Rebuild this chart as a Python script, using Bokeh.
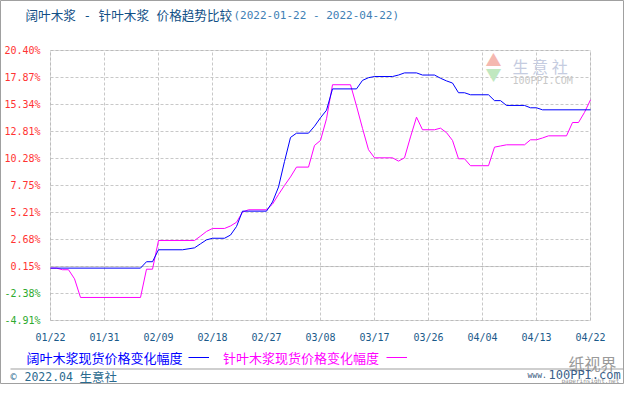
from datetime import datetime
import pandas as pd
from bokeh.plotting import figure
from bokeh.models import (FixedTicker, DatetimeTickFormatter, CustomJSTickFormatter, Label,
                          Legend, LegendItem, BoxAnnotation, Range1d, ColumnDataSource,
                          LinearAxis)
from bokeh.embed import file_html
from bokeh.resources import INLINE

# ---------------- data ----------------
title_main = "阔叶木浆 - 针叶木浆 价格趋势比较"
title_dates = "(2022-01-22 - 2022-04-22)"
series_names = ["阔叶木浆现货价格变化幅度", "针叶木浆现货价格变化幅度"]
footer_year = "2022.04"
footer_brand = "生意社"

hardwood_dates = ["2022-01-22", "2022-02-06", "2022-02-07", "2022-02-08", "2022-02-09", "2022-02-13",
                  "2022-02-15", "2022-02-16", "2022-02-17", "2022-02-18", "2022-02-20", "2022-02-21",
                  "2022-02-22", "2022-02-23", "2022-02-27", "2022-02-28", "2022-03-01", "2022-03-02",
                  "2022-03-03", "2022-03-04", "2022-03-06", "2022-03-07", "2022-03-08", "2022-03-09",
                  "2022-03-10", "2022-03-14", "2022-03-15", "2022-03-16", "2022-03-17", "2022-03-20",
                  "2022-03-21", "2022-03-22", "2022-03-24", "2022-03-25", "2022-03-27", "2022-03-28",
                  "2022-03-29", "2022-03-30", "2022-03-31", "2022-04-01", "2022-04-02", "2022-04-05",
                  "2022-04-06", "2022-04-07", "2022-04-08", "2022-04-11", "2022-04-12", "2022-04-13",
                  "2022-04-14", "2022-04-22"]
hardwood_values = [0.0, 0.0, 0.6, 0.6, 1.72, 1.72,
                   1.9, 2.28, 2.65, 2.8, 2.8, 3.1,
                   3.9, 5.34, 5.34, 6.2, 7.6, 10.0,
                   12.25, 12.65, 12.65, 13.3, 14.1, 14.8,
                   16.8, 16.8, 17.6, 17.85, 17.96, 17.96,
                   18.1, 18.3, 18.3, 18.1, 18.1, 17.8,
                   17.55, 17.35, 16.44, 16.44, 16.25, 16.25,
                   15.7, 15.7, 15.25, 15.25, 15.03, 15.03,
                   14.84, 14.84]

softwood_dates = ["2022-01-22", "2022-01-23", "2022-01-24", "2022-01-25", "2022-01-26", "2022-01-27",
                  "2022-02-06", "2022-02-07", "2022-02-08", "2022-02-09", "2022-02-15", "2022-02-16",
                  "2022-02-17", "2022-02-18", "2022-02-20", "2022-02-21", "2022-02-22", "2022-02-23",
                  "2022-02-24", "2022-02-27", "2022-02-28", "2022-03-01", "2022-03-02", "2022-03-03",
                  "2022-03-04", "2022-03-06", "2022-03-07", "2022-03-08", "2022-03-09", "2022-03-10",
                  "2022-03-13", "2022-03-14", "2022-03-15", "2022-03-16", "2022-03-17", "2022-03-20",
                  "2022-03-21", "2022-03-22", "2022-03-23", "2022-03-24", "2022-03-25", "2022-03-27",
                  "2022-03-28", "2022-03-29", "2022-03-30", "2022-03-31", "2022-04-01", "2022-04-02",
                  "2022-04-05", "2022-04-06", "2022-04-07", "2022-04-08", "2022-04-11", "2022-04-12",
                  "2022-04-13", "2022-04-14", "2022-04-15", "2022-04-18", "2022-04-19", "2022-04-20",
                  "2022-04-21", "2022-04-22"]
softwood_values = [0.0, 0.0, -0.15, -0.15, -1.0, -2.75,
                   -2.75, -0.1, -0.1, 2.59, 2.59, 3.0,
                   3.44, 3.72, 3.72, 3.95, 4.3, 5.25,
                   5.47, 5.47, 6.0, 6.9, 7.75, 8.55,
                   9.47, 9.47, 11.5, 11.97, 14.0, 17.19,
                   17.19, 15.2, 13.1, 11.1, 10.34, 10.34,
                   10.03, 10.34, 12.3, 14.15, 12.97, 12.97,
                   13.12, 12.7, 11.97, 10.25, 10.25, 9.6,
                   9.6, 11.34, 11.45, 11.56, 11.56, 12.03,
                   12.03, 12.2, 12.4, 12.4, 13.65, 13.65,
                   14.6, 15.78]

y_ticks = [-4.91, -2.38, 0.15, 2.68, 5.21, 7.75, 10.28, 12.81, 15.34, 17.87, 20.40]
x_tick_dates = ["2022-01-22", "2022-01-31", "2022-02-09", "2022-02-18", "2022-02-27", "2022-03-08",
                "2022-03-17", "2022-03-26", "2022-04-04", "2022-04-13", "2022-04-22"]

# ---------------- styling / layout ----------------
BLUE = "#0000ff"
MAGENTA = "#ff00ff"
MONO = "DejaVu Sans Mono"
CJK = "Noto Sans CJK SC"
STACK = "'DejaVu Sans Mono', 'Noto Sans CJK SC'"
W, H = 624, 384
PL, PR, PT, PB = 50, 590, 50, 320     # plot-area box in canvas pixels


def ms(d):
    return pd.Timestamp(d).value / 1e6


# the whole canvas is the frame; the plot-area box maps the date/percent ranges onto PL..PR / PT..PB
xa, xb = ms(x_tick_dates[0]), ms(x_tick_dates[-1])
ya, yb = y_ticks[0], y_ticks[-1]
kx = (xb - xa) / (PR - PL)
ky = (yb - ya) / (PB - PT)
x_range = Range1d(xa - PL * kx, xb + (W - PR) * kx)
y_range = Range1d(ya - (H - PB) * ky, yb + PT * ky)

p = figure(width=W, height=H, x_axis_type="datetime", output_backend="svg",
           toolbar_location=None, x_range=x_range, y_range=y_range, min_border=0)
p.background_fill_color = "white"
p.border_fill_color = "white"
p.outline_line_color = "#a0a0a0"      # outer border of the picture
p.outline_line_width = 1

# x axis
p.xaxis.ticker = FixedTicker(ticks=[ms(d) for d in x_tick_dates])
p.xaxis.formatter = DatetimeTickFormatter(days="%m/%d", months="%m/%d", hours="%m/%d",
                                          years="%m/%d")
p.xaxis.fixed_location = ya
p.xaxis.major_label_text_font = MONO
p.xaxis.major_label_text_font_size = "10px"
p.xaxis.major_label_text_color = "#1b5a8a"
p.xaxis.major_label_standoff = 11

# y axes: red labels for non-negative ticks, green for negative ticks
p.yaxis.ticker = FixedTicker(ticks=y_ticks)
p.yaxis.formatter = CustomJSTickFormatter(code="return tick > 0 ? tick.toFixed(2) + '%' : '';")
p.yaxis.major_label_text_color = "#ff3333"
neg_axis = LinearAxis(ticker=FixedTicker(ticks=y_ticks),
                      formatter=CustomJSTickFormatter(code="return tick < 0 ? tick.toFixed(2) + '%' : '';"),
                      major_label_text_color="#2eaa2e")
p.add_layout(neg_axis, "left")
for ax in p.yaxis:
    ax.fixed_location = xa
    ax.major_label_text_font = MONO
    ax.major_label_text_font_size = "10px"
    ax.major_label_standoff = 10
for ax in list(p.xaxis) + list(p.yaxis):
    ax.axis_line_color = None
    ax.major_tick_line_color = None
    ax.minor_tick_line_color = None
    ax.major_tick_out = 0
    ax.major_tick_in = 0

# grid limited to the plot-area box
for g in (p.xgrid, p.ygrid):
    g.grid_line_color = "#c8c8c8"
    g.grid_line_dash = "3 2"
    g.grid_line_width = 1
p.xgrid.cross_bounds = (ya, yb)
p.ygrid.cross_bounds = (xa, xb)

# plot-area box and the solid 0.15% line
p.add_layout(BoxAnnotation(left=xa, right=xb, bottom=ya, top=yb, fill_alpha=0,
                           line_color="#a0a0a0", line_width=1, level="underlay"))
p.add_layout(BoxAnnotation(left=xa, right=xb, bottom=y_ticks[2], top=y_ticks[2], fill_alpha=0,
                           line_color="#a8a8a8", line_width=1, level="underlay"))

# series
src_s = ColumnDataSource(dict(x=pd.to_datetime(softwood_dates), y=softwood_values))
src_h = ColumnDataSource(dict(x=pd.to_datetime(hardwood_dates), y=hardwood_values))
r_soft = p.line("x", "y", source=src_s, line_color=MAGENTA, line_width=1)
r_hard = p.line("x", "y", source=src_h, line_color=BLUE, line_width=1)


def add_text(px, py, text, font, size, color, align="left"):
    p.add_layout(Label(x=px, y=H - py, x_units="screen", y_units="screen", text=text,
                       text_font=font, text_font_size=size, text_color=color,
                       text_baseline="middle", text_align=align))


# title
add_text(25, 15, title_main, STACK, "12.6px", "#114f86")
add_text(233, 15, title_dates, MONO, "11px", "#3f80b5")

# legend: coloured name, then the series' line swatch
LEG_Y = 357
for name, col, tx, gx, rend in [(series_names[0], BLUE, 26, 188, r_hard),
                                (series_names[1], MAGENTA, 222.5, 386, r_soft)]:
    add_text(tx, LEG_Y, name, CJK, "13px", col)
    p.add_layout(Legend(items=[LegendItem(label=" ", renderers=[rend])],
                        location=(gx, H - (LEG_Y + 5)),
                        padding=0, margin=0, spacing=0, border_line_color=None,
                        background_fill_alpha=0, glyph_width=21, glyph_height=10,
                        label_height=10, label_width=0, label_standoff=0,
                        label_text_font_size="8px"))

# separator line
SEP_Y = 368.5
p.add_layout(BoxAnnotation(left=10, right=W - 1, bottom=H - SEP_Y - 0.5, top=H - SEP_Y + 0.5,
                           left_units="screen", right_units="screen", bottom_units="screen",
                           top_units="screen", fill_color="#a0a0a0", fill_alpha=1,
                           line_color=None))

# credits
FOOT = "#2a6a8f"
CRED_Y = 375.5
add_text(10, CRED_Y, "©", MONO, "10px", FOOT)
add_text(24, CRED_Y, footer_year, MONO, "11.5px", FOOT)
add_text(79, CRED_Y, footer_brand, CJK, "12.5px", FOOT)

# watermarks
add_text(493, 58, "▲", CJK, "16px", "#f5b8b0", "center")
add_text(493, 73, "▼", CJK, "16px", "#c0e8c0", "center")
add_text(512, 65, "生 意 社", CJK, "16px", "#c5cce0")
add_text(512, 80, "100PPI.COM", MONO, "10px", "#c8c8c8")
add_text(568, 362, "纸视界", CJK, "16px", "#9a9a9a")
add_text(527, 374.5, "www.", MONO, "8px", "#3a5a80")
add_text(548, 374, "100PPI.com", MONO, "12px", "#3a5f8a")
add_text(561, 379.5, "paperinsight.net", MONO, "6px", "#909090")

open("out.html", "w").write(file_html(p, INLINE))
